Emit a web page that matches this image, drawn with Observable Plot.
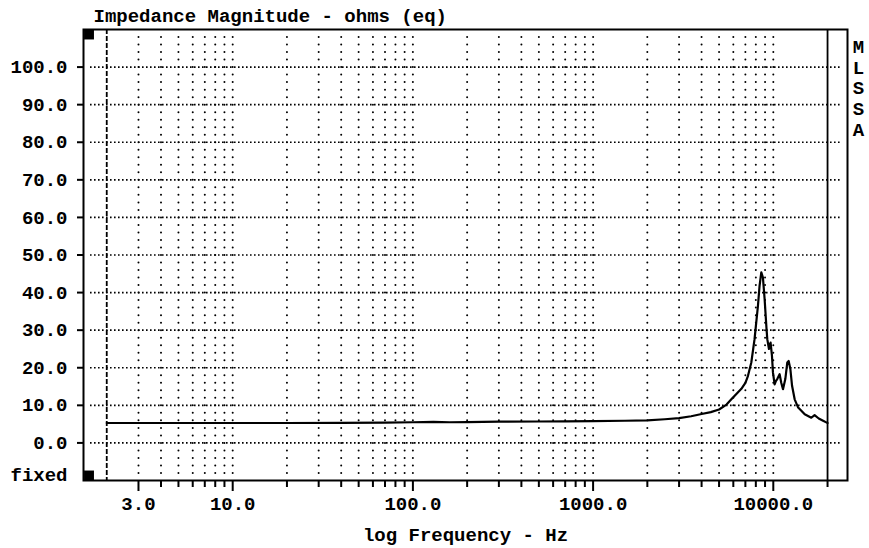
<!DOCTYPE html>
<html><head><meta charset="utf-8">
<script src="https://cdn.jsdelivr.net/npm/d3@7"></script>
<script src="https://cdn.jsdelivr.net/npm/@observablehq/plot@0.6"></script>
<style>body{margin:0;background:#fff}</style>
</head><body><div id="chart"></div>
<script>
// Impedance magnitude curve (Hz, ohms)
const freqHz = [2, 3, 5, 10, 20, 40, 70, 100, 130, 160, 200, 300, 500, 700, 1000, 1500, 2000, 2500, 3000, 3500, 4000, 4500, 5000, 5500, 5850, 6200, 6650, 7000, 7230, 7550, 7870, 8040, 8220, 8390, 8580, 8760, 8950, 9160, 9260, 9460, 9560, 9660, 9830, 9960, 10170, 10350, 10520, 10840, 11070, 11320, 11660, 11960, 12170, 12440, 12710, 13140, 13740, 14940, 16250, 16950, 17870, 18890, 19800, 20000];
const ohms   = [5.3, 5.3, 5.3, 5.3, 5.3, 5.35, 5.4, 5.5, 5.6, 5.5, 5.55, 5.65, 5.7, 5.75, 5.8, 5.9, 6.0, 6.3, 6.6, 7.1, 7.7, 8.2, 8.9, 10.2, 11.6, 12.9, 14.4, 16.0, 17.8, 21.4, 27.6, 32, 36.5, 41.8, 45.4, 44, 38.3, 30.7, 27.6, 25, 26, 26.7, 23.2, 18.7, 15.6, 16.5, 17, 18.3, 16, 14.3, 17, 21.4, 21.8, 19.6, 15.2, 11.6, 9.4, 7.6, 6.7, 7.4, 6.5, 5.9, 5.4, 5.3];

const yTicks = [0, 10, 20, 30, 40, 50, 60, 70, 80, 90, 100];
const xMajorTicks = [3, 10, 100, 1000, 10000];
const xMajorLabels = ["3.0", "10.0", "100.0", "1000.0", "10000.0"];
const xMinorTicks = [4, 5, 6, 7, 8, 9, 20, 30, 40, 50, 60, 70, 80, 90, 200, 300, 400, 500, 600, 700, 800, 900, 2000, 3000, 4000, 5000, 6000, 7000, 8000, 9000, 20000];
const gridFreqs = [3, 4, 5, 6, 7, 8, 9, 10, 20, 30, 40, 50, 60, 70, 80, 90, 100, 200, 300, 400, 500, 600, 700, 800, 900, 1000, 2000, 3000, 4000, 5000, 6000, 7000, 8000, 9000, 10000];
const startFreq = [2];
const endFreq = [20000];
const titleText = "Impedance Magnitude - ohms (eq)";
const xTitle = "log Frequency - Hz";
const sideText = "M\nL\nS\nS\nA";
const modeText = "fixed";

const data = freqHz.map((f, i) => ({f, z: ohms[i]}));
const dotRows = d3.range(-8, 109, 2);
const gridPts = gridFreqs.flatMap(f => dotRows.map(v => ({f, v})));
const majorLabel = new Map(xMajorTicks.map((t, i) => [t, xMajorLabels[i]]));
const FONT = "'Liberation Mono', 'DejaVu Sans Mono', monospace";

const plot = Plot.plot({
  width: 869, height: 548,
  marginLeft: 83, marginRight: 22, marginTop: 29, marginBottom: 68,
  style: {fontFamily: FONT, fontWeight: "bold", fontSize: "19px", background: "#fff", color: "#000", overflow: "visible"},
  x: {type: "log", domain: [1.486, 25810], label: null},
  y: {domain: [-10, 110], label: null},
  marks: [
    Plot.ruleY(yTicks, {stroke: "#000", strokeWidth: 1.6, strokeDasharray: "1.6,2.4", insetLeft: 7, insetRight: 7}),
    Plot.dot(gridPts, {x: "f", y: "v", r: 1, fill: "#000", stroke: null}),
    Plot.ruleX(startFreq, {stroke: "#000", strokeWidth: 1.8, strokeDasharray: "5,2"}),
    Plot.ruleX(endFreq, {stroke: "#000", strokeWidth: 1.8}),
    Plot.line(data, {x: "f", y: "z", stroke: "#000", strokeWidth: 2.2}),
    Plot.frame({stroke: "#000", strokeWidth: 2}),
    Plot.axisY(yTicks, {tickSize: 6, tickPadding: 10, tickFormat: d => d.toFixed(1), strokeWidth: 2, label: null, fontSize: 19}),
    Plot.axisX(xMajorTicks, {tickSize: 11, tickFormat: () => "", strokeWidth: 2, label: null}),
    Plot.axisX(xMinorTicks, {tickSize: 7, tickFormat: () => "", strokeWidth: 2, label: null}),
    Plot.text(xMajorTicks, {x: d => d, text: d => majorLabel.get(d), frameAnchor: "bottom", lineAnchor: "top", dy: 15.5, textAnchor: "middle", fontSize: 19, fontWeight: "bold"}),
    Plot.text([titleText], {text: d => d, frameAnchor: "top-left", dx: 10, dy: -13.4, textAnchor: "start", lineAnchor: "middle", fontSize: 19, fontWeight: "bold"}),
    Plot.text([xTitle], {text: d => d, frameAnchor: "bottom", dy: 54, textAnchor: "middle", lineAnchor: "middle", fontSize: 19, fontWeight: "bold"}),
    Plot.text([sideText], {text: d => d, frameAnchor: "top-right", dx: 11, dy: 8.5, textAnchor: "middle", lineAnchor: "top", lineHeight: 1.095, fontSize: 19, fontWeight: "bold"}),
    Plot.text([modeText], {text: d => d, frameAnchor: "bottom-left", dx: -16, dy: -6, textAnchor: "end", lineAnchor: "middle", fontSize: 19, fontWeight: "bold"}),
    Plot.dot([0], {x: null, y: null, frameAnchor: "top-left", dx: 5.5, dy: 5, symbol: "square", r: 5.6, fill: "#000", stroke: null}),
    Plot.dot([0], {x: null, y: null, frameAnchor: "bottom-left", dx: 5.5, dy: -5, symbol: "square", r: 5.6, fill: "#000", stroke: null})
  ]
});
document.getElementById("chart").appendChild(plot);
</script>
</body></html>
